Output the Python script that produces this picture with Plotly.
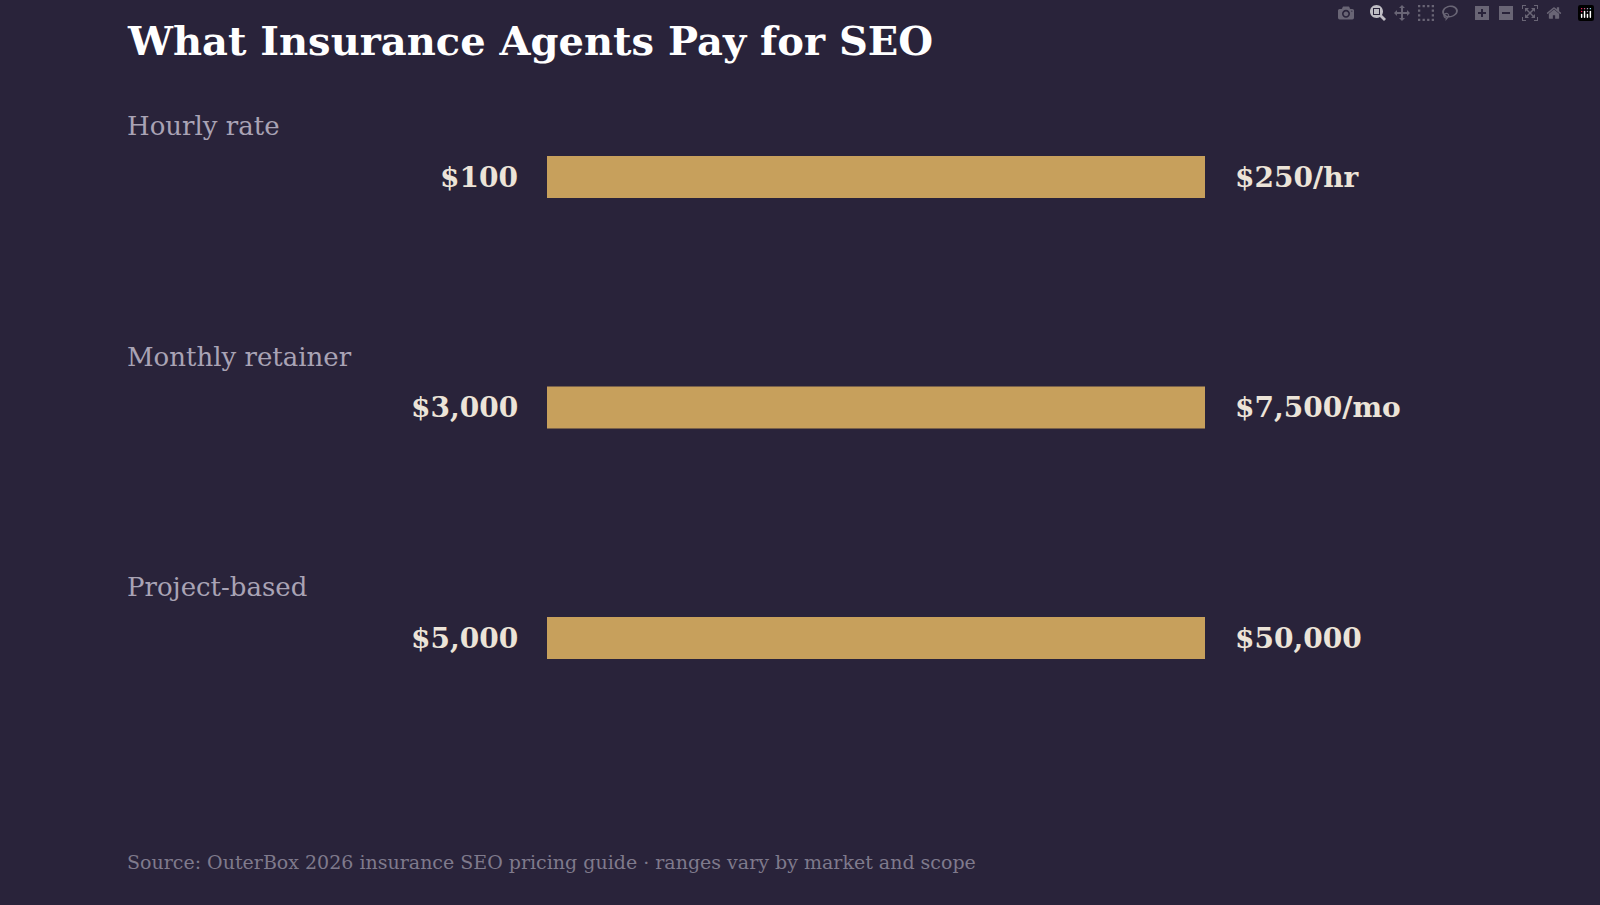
import plotly.graph_objects as go

# Pricing ranges
categories = ["Hourly rate", "Monthly retainer", "Project-based"]
low_labels = ["$100", "$3,000", "$5,000"]
high_labels = ["$250/hr", "$7,500/mo", "$50,000"]
low_values = [100, 3000, 5000]
high_values = [250, 7500, 50000]

BG = "#29233a"
GOLD = "#c7a05c"
SERIF = "DejaVu Serif"

W, H = 1600, 905
x0_px, x1_px = 547, 1205
step_px, first_px = 230.5, 177

# each range drawn as a full span from its low to its high (normalised)
ypos = list(range(len(categories)))
spans = [(h - l) / (h - l) for l, h in zip(low_values, high_values)]

fig = go.Figure(go.Bar(
    y=ypos, x=spans, base=[0] * len(spans), orientation="h",
    marker=dict(color=GOLD, line=dict(width=0)),
    width=42 / step_px, hoverinfo="skip",
))

top = -first_px / step_px
bottom = top + H / step_px

ann = []
for i, cat in enumerate(categories):
    ann.append(dict(text=cat, x=125 / W, xref="paper", y=i - 51 / step_px, yref="y",
                    xanchor="left", showarrow=False,
                    font=dict(family=SERIF, size=26, color="#a9a3b5")))
    ann.append(dict(text=f"<b>{low_labels[i]}</b>", x=520 / W, xref="paper", y=i, yref="y",
                    xanchor="right", showarrow=False,
                    font=dict(family=SERIF, size=28, color="#ece4d8")))
    ann.append(dict(text=f"<b>{high_labels[i]}</b>", x=1233 / W, xref="paper", y=i, yref="y",
                    xanchor="left", showarrow=False,
                    font=dict(family=SERIF, size=28, color="#ece4d8")))

ann.append(dict(text="<b>What Insurance Agents Pay for SEO</b>", x=125 / W, xref="paper",
                y=1 - 40 / H, yref="paper", xanchor="left", yanchor="middle", showarrow=False,
                font=dict(family=SERIF, size=40, color="#ffffff")))
ann.append(dict(text="Source: OuterBox 2026 insurance SEO pricing guide · ranges vary by market and scope",
                x=125 / W, xref="paper", y=1 - 862 / H, yref="paper", xanchor="left",
                yanchor="middle", showarrow=False,
                font=dict(family=SERIF, size=19, color="#7f7a8c")))

fig.update_layout(
    width=W, height=H, paper_bgcolor=BG, plot_bgcolor=BG,
    margin=dict(l=0, r=0, t=0, b=0), showlegend=False,
    xaxis=dict(domain=[x0_px / W, x1_px / W], range=[0, 1], visible=False),
    yaxis=dict(range=[bottom, top], visible=False),
    annotations=ann,
)

# drop the default page margin so the chart fills the window
fig.write_html("out.html",
               post_script="document.body.style.margin='0';document.body.style.background='%s';" % BG)
